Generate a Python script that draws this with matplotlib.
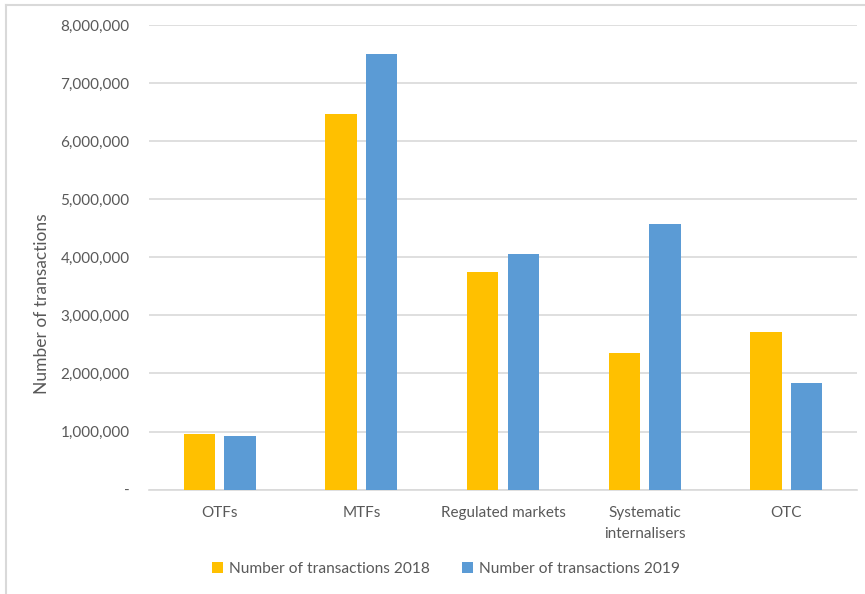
import matplotlib
matplotlib.use("Agg")
import matplotlib.pyplot as plt
from matplotlib.lines import Line2D
from matplotlib.ticker import FuncFormatter
import numpy as np

categories = ["OTFs", "MTFs", "Regulated markets", "Systematic\ninternalisers", "OTC"]
series_names = ["Number of transactions 2018", "Number of transactions 2019"]
values_2018 = [955000, 6460000, 3740000, 2346000, 2713000]
values_2019 = [920000, 7494000, 4057000, 4566000, 1835000]
y_ticks = [0, 1000000, 2000000, 3000000, 4000000, 5000000, 6000000, 7000000, 8000000]

colors = ["#FFC000", "#5B9BD5"]
text_col = "#595959"
grid_col = "#D9D9D9"
plt.rcParams['font.family'] = ['Lato', 'DejaVu Sans']

W, H = 865, 594
fig = plt.figure(figsize=(W / 100, H / 100), dpi=100)
left, right, top, bottom = 149, 857, 25, 489.6
ax = fig.add_axes([left / W, 1 - bottom / H, (right - left) / W, (bottom - top) / H])

x = np.arange(len(categories))
bw = 0.222
off = 0.143
ax.bar(x - off, values_2018, bw, color=colors[0], label=series_names[0], zorder=3)
ax.bar(x + off, values_2019, bw, color=colors[1], label=series_names[1], zorder=3)

ax.set_xlim(-0.5, len(categories) - 0.5)
ax.set_ylim(0, 8000000)
ax.set_yticks(y_ticks)
ax.yaxis.set_major_formatter(FuncFormatter(lambda v, p: "-" if v == 0 else f"{int(v):,}"))
ax.set_xticks(x)
ax.set_xticklabels(categories, linespacing=1.6)
ax.tick_params(axis='both', length=0, colors=text_col, labelsize=11)
ax.tick_params(axis='y', pad=14)
ax.tick_params(axis='x', pad=12)
ax.grid(axis='y', color=grid_col, linewidth=1.2, zorder=0)
for s in ["top", "right", "left"]:
    ax.spines[s].set_visible(False)
ax.spines["bottom"].set_color(grid_col)
ax.spines["bottom"].set_linewidth(1.2)

fig.text(42 / W, 1 - 304 / H, "Number of transactions", rotation=90, color=text_col,
         fontsize=12.5, ha="center", va="center")

leg = fig.legend(loc="center", bbox_to_anchor=(446 / W, 1 - 569 / H), ncol=2, frameon=False,
                 fontsize=11.2, handlelength=0.7, handleheight=0.7, handletextpad=0.4,
                 columnspacing=2.1)
for t in leg.get_texts():
    t.set_color(text_col)

fig.add_artist(Line2D([6 / W, 6 / W], [0, 1 - 5 / H], transform=fig.transFigure, color=grid_col, lw=1.5))
fig.add_artist(Line2D([6 / W, 1], [1 - 5 / H, 1 - 5 / H], transform=fig.transFigure, color=grid_col, lw=1.5))

fig.savefig("out.png", dpi=100)
